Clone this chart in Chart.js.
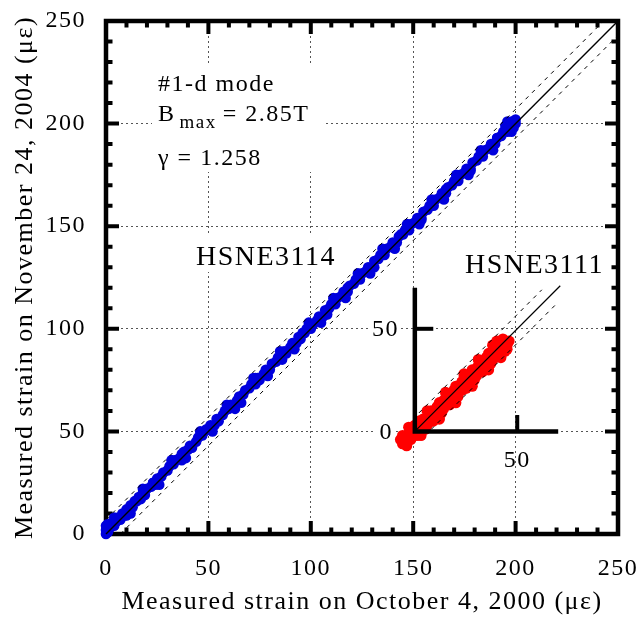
<!DOCTYPE html>
<html><head><meta charset="utf-8">
<script src="https://cdn.jsdelivr.net/npm/chart.js@4.4.1/dist/chart.umd.min.js"></script>
<style>html,body{margin:0;padding:0;background:#fff;overflow:hidden}</style>
</head><body>
<canvas id="c" width="641" height="619"></canvas>
<script>
// ---------- data ----------
const axisTicks = [0, 50, 100, 150, 200, 250];
const insetTickLabels = [0, 50];

const blueX = [0,0,0,1,1,2,3,4,5,6,7,8,9,10,11,12,13,14,15,16,17,18,19,20,22,23,24,25,27,28,30,31,33,34,36,37,38,40,41,42,44,45,47,48,50,51,53,54,55,57,58,60,61,62,64,65,67,68,70,71,73,74,75,77,78,80,81,83,84,86,87,88,90,91,93,94,95,97,98,100,101,103,104,106,107,109,110,112,113,115,116,118,119,121,122,124,125,127,128,130,131,133,134,136,137,139,140,142,143,145,146,148,149,151,152,154,155,157,158,160,161,163,164,166,167,169,170,172,173,175,176,178,179,181,182,184,185,187,188,190,191,193,194,196,197,198,199,200,196,200,
  10,23,37,49,63,73,86,96,108,118,131,144,154,166,178,191,
  4,12,18,26,32,39,46,52,59,66,72,79,85,92,99,105,111,117,123,129,135,141,147,153,159,165,171,177,183,189,195,198];
const blueY = [0,2,4,1,5,3,5,4,6,8,7,10,9,12,11,14,13,16,16,18,17,20,19,22,23,25,24,27,28,30,31,33,34,36,37,39,40,41,43,42,45,47,48,50,51,53,53,56,55,58,60,61,63,62,65,67,68,70,71,73,73,76,75,78,80,80,83,84,86,87,89,88,91,93,93,96,95,98,100,100,102,104,106,106,109,110,112,112,115,116,118,118,121,122,124,124,127,128,130,130,133,134,136,136,139,140,142,142,145,146,148,148,151,152,154,154,157,158,160,160,163,164,166,166,169,170,172,172,175,176,178,178,181,182,184,184,187,188,190,190,193,194,196,196,199,201,198,200,201,202,
  9,25,36,51,61,76,85,98,107,120,130,146,153,168,177,193,
  8,10,22,24,36,37,50,50,63,64,76,77,89,90,103,103,115,115,127,127,139,139,151,151,163,163,175,175,187,187,199,196];

const redX = [-6,-5,-4,-3,-2,-2,-1,0,0,1,2,2,3,4,5,5,6,7,8,8,9,10,11,11,12,13,14,14,15,16,17,17,18,19,20,20,21,22,23,23,24,25,26,26,27,28,29,29,30,31,32,32,33,34,35,35,36,37,38,38,39,40,41,41,42,43,44,44,45,46,43,45,-6,-4,
  3,6,12,15,20,24,28,31,36,38,42,40,44,-7,-3,
  0,2,4,6,8,10,12,14,16,18,20,22,24,26,28,30,32,34,36,38,40,42,
  1,3,5,7,9,11,13,15,17,19,21,23,25,27,29,31,33,35,37,39,41,43];
const redY = [-6,-3,-7,-1,-4,1,-2,0,3,-1,2,5,1,4,2,6,4,7,5,9,7,10,8,12,10,13,11,15,13,16,14,18,16,19,17,21,19,22,20,24,22,25,23,27,25,28,26,30,28,31,29,33,31,34,32,36,34,37,35,39,37,40,38,42,40,43,41,44,42,44,45,40,-2,-5,
  -2,10,6,19,14,28,22,35,30,42,36,44,39,-4,2,
  2,0,6,3,10,8,14,12,18,15,22,20,26,23,30,27,34,31,38,35,42,39,
  -2,4,1,8,5,12,9,16,13,20,17,24,21,28,25,32,29,36,33,40,37,42];

// reference lines (value pairs)
const refX = [0, 250],   refY = [0, 250];
const upX  = [0, 243],   upY  = [7, 250];
const loX  = [7, 250],   loY  = [0, 243];
const inRefX = [0, 71],  inRefY = [0, 71];
const inUpX  = [2, 62],  inUpY  = [9, 69];
const inLoX  = [8, 70],  inLoY  = [1, 63];
const inAxisX = [0, 0, 70], inAxisY = [70, 0, 0];
const inTickXx = [50, 50], inTickXy = [0, 8];
const inTickYx = [0, 9],   inTickYy = [50, 50];
const INSET = {x: 150.8, y: 50};

// ---------- helpers ----------
const pts = (xs, ys, ox = 0, oy = 0) => xs.map((v, i) => ({x: v + ox, y: ys[i] + oy}));
const FONT = "'Liberation Serif','Times New Roman',serif";

const lineDs = (data, w, dash, order) => ({
  type: 'scatter', data, showLine: true, borderColor: '#000', borderWidth: w,
  borderDash: dash || [], pointRadius: 0, order, clip: false
});

const spacingPlugin = {
  id: 'spacing',
  beforeInit(chart) { chart.ctx.letterSpacing = '1.5px'; },
  beforeUpdate(chart) { chart.ctx.letterSpacing = '1.5px'; },
  beforeDraw(chart) { chart.ctx.letterSpacing = '1.5px'; }
};

const framePlugin = {
  id: 'frame',
  beforeDatasetsDraw(chart) {
    const {ctx, chartArea: a, scales: {x, y}} = chart;
    ctx.save();
    ctx.strokeStyle = '#000';
    ctx.lineWidth = 4.5;
    ctx.strokeRect(a.left, a.top, a.right - a.left, a.bottom - a.top);
    ctx.lineWidth = 4;
    ctx.beginPath();
    for (let v = 10; v < 250; v += 10) {
      const len = v % 50 === 0 ? 13 : 6.5;
      const px = x.getPixelForValue(v), py = y.getPixelForValue(v);
      ctx.moveTo(px, a.bottom); ctx.lineTo(px, a.bottom - len);
      ctx.moveTo(px, a.top); ctx.lineTo(px, a.top + len);
      ctx.moveTo(a.left, py); ctx.lineTo(a.left + len, py);
      ctx.moveTo(a.right, py); ctx.lineTo(a.right - len, py);
    }
    ctx.stroke();
    ctx.restore();
  }
};

const textPlugin = {
  id: 'texts',
  beforeDatasetsDraw(chart) {
    const {ctx} = chart;
    ctx.save();
    ctx.fillStyle = '#fff';
    ctx.fillRect(152, 66, 172, 106);
    ctx.fillRect(190, 236, 150, 36);
    ctx.fillRect(460, 252, 145, 28);
    ctx.fillRect(368, 318, 32, 24);
    ctx.fillRect(374, 421, 20, 24);
    ctx.restore();
  },
  afterDatasetsDraw(chart) {
    const {ctx, scales: {x, y}} = chart;
    ctx.save();
    ctx.fillStyle = '#000';
    ctx.textBaseline = 'alphabetic';
    ctx.textAlign = 'left';
    ctx.font = '24px ' + FONT;
    ctx.fillText('#1-d mode', 158, 91);
    ctx.fillText('B', 158, 121);
    const bw = ctx.measureText('B').width;
    ctx.font = '19px ' + FONT;
    ctx.fillText('max', 158 + bw + 4, 128);
    const mw = ctx.measureText('max').width;
    ctx.font = '24px ' + FONT;
    ctx.fillText('= 2.85T', 158 + bw + 4 + mw + 6, 121);
    ctx.fillText('\u03b3 = 1.258', 158, 165);
    ctx.font = '28px ' + FONT;
    ctx.fillText('HSNE3114', 196, 265);
    ctx.fillText('HSNE3111', 465, 273);
    ctx.font = '24px ' + FONT;
    ctx.textAlign = 'right';
    ctx.textBaseline = 'middle';
    ctx.fillText(String(insetTickLabels[1]), 399, y.getPixelForValue(INSET.y + insetTickLabels[1]) + 1);
    ctx.fillText(String(insetTickLabels[0]), 393, y.getPixelForValue(INSET.y + insetTickLabels[0]) + 1);
    ctx.textAlign = 'center';
    ctx.textBaseline = 'top';
    ctx.fillText(String(insetTickLabels[1]), x.getPixelForValue(INSET.x + insetTickLabels[1]), 449);
    ctx.restore();
  }
};

new Chart(document.getElementById('c'), {
  type: 'scatter',
  data: {
    datasets: [
      lineDs(pts(refX, refY), 1.4, null, 1),
      lineDs(pts(upX, upY), 1, [4, 5], 2),
      lineDs(pts(loX, loY), 1, [4, 5], 3),
      lineDs(pts(inRefX, inRefY, INSET.x, INSET.y), 1.2, null, 4),
      lineDs(pts(inUpX, inUpY, INSET.x, INSET.y), 1, [4, 5], 5),
      lineDs(pts(inLoX, inLoY, INSET.x, INSET.y), 1, [4, 5], 6),
      lineDs(pts(inAxisX, inAxisY, INSET.x, INSET.y), 4.5, null, 7),
      lineDs(pts(inTickXx, inTickXy, INSET.x, INSET.y), 4, null, 8),
      lineDs(pts(inTickYx, inTickYy, INSET.x, INSET.y), 4, null, 9),
      { label: 'HSNE3111', data: pts(redX, redY, INSET.x, INSET.y), backgroundColor: '#ff0000',
        borderWidth: 0, pointRadius: 5.6, order: 10, clip: false },
      { label: 'HSNE3114', data: pts(blueX, blueY), backgroundColor: '#0000dd',
        borderWidth: 0, pointRadius: 5.3, order: 11, clip: false }
    ]
  },
  options: {
    responsive: false,
    animation: false,
    devicePixelRatio: 1,
    layout: {padding: {left: 0, right: 23, top: 21, bottom: 0}},
    plugins: {legend: {display: false}, tooltip: {enabled: false}},
    scales: {
      x: {
        type: 'linear', min: 0, max: 250,
        afterBuildTicks: s => { s.ticks = axisTicks.map(v => ({value: v})); },
        afterFit: s => { s.height = 85; s.paddingLeft = 0; s.paddingRight = 0; },
        grid: {color: '#555', lineWidth: 1, drawTicks: false},
        border: {display: false, dash: [2, 3]},
        ticks: {color: '#000', font: {family: FONT, size: 24}, padding: 20, maxRotation: 0},
        title: {display: true, text: 'Measured strain on October 4, 2000 (\u03bc\u03b5)', color: '#000',
          font: {family: FONT, size: 26}, padding: {top: 0, bottom: 1}}
      },
      y: {
        type: 'linear', min: 0, max: 250,
        afterBuildTicks: s => { s.ticks = axisTicks.map(v => ({value: v})); },
        afterFit: s => { s.width = 106; s.paddingTop = 0; s.paddingBottom = 0; },
        grid: {color: '#555', lineWidth: 1, drawTicks: false},
        border: {display: false, dash: [2, 3]},
        ticks: {color: '#000', font: {family: FONT, size: 24}, padding: 20},
        title: {display: true, text: 'Measured strain on November 24, 2004 (\u03bc\u03b5)', color: '#000',
          font: {family: FONT, size: 26}, padding: {top: 10, bottom: 0}}
      }
    }
  },
  plugins: [spacingPlugin, textPlugin, framePlugin]
});
</script>
</body></html>
